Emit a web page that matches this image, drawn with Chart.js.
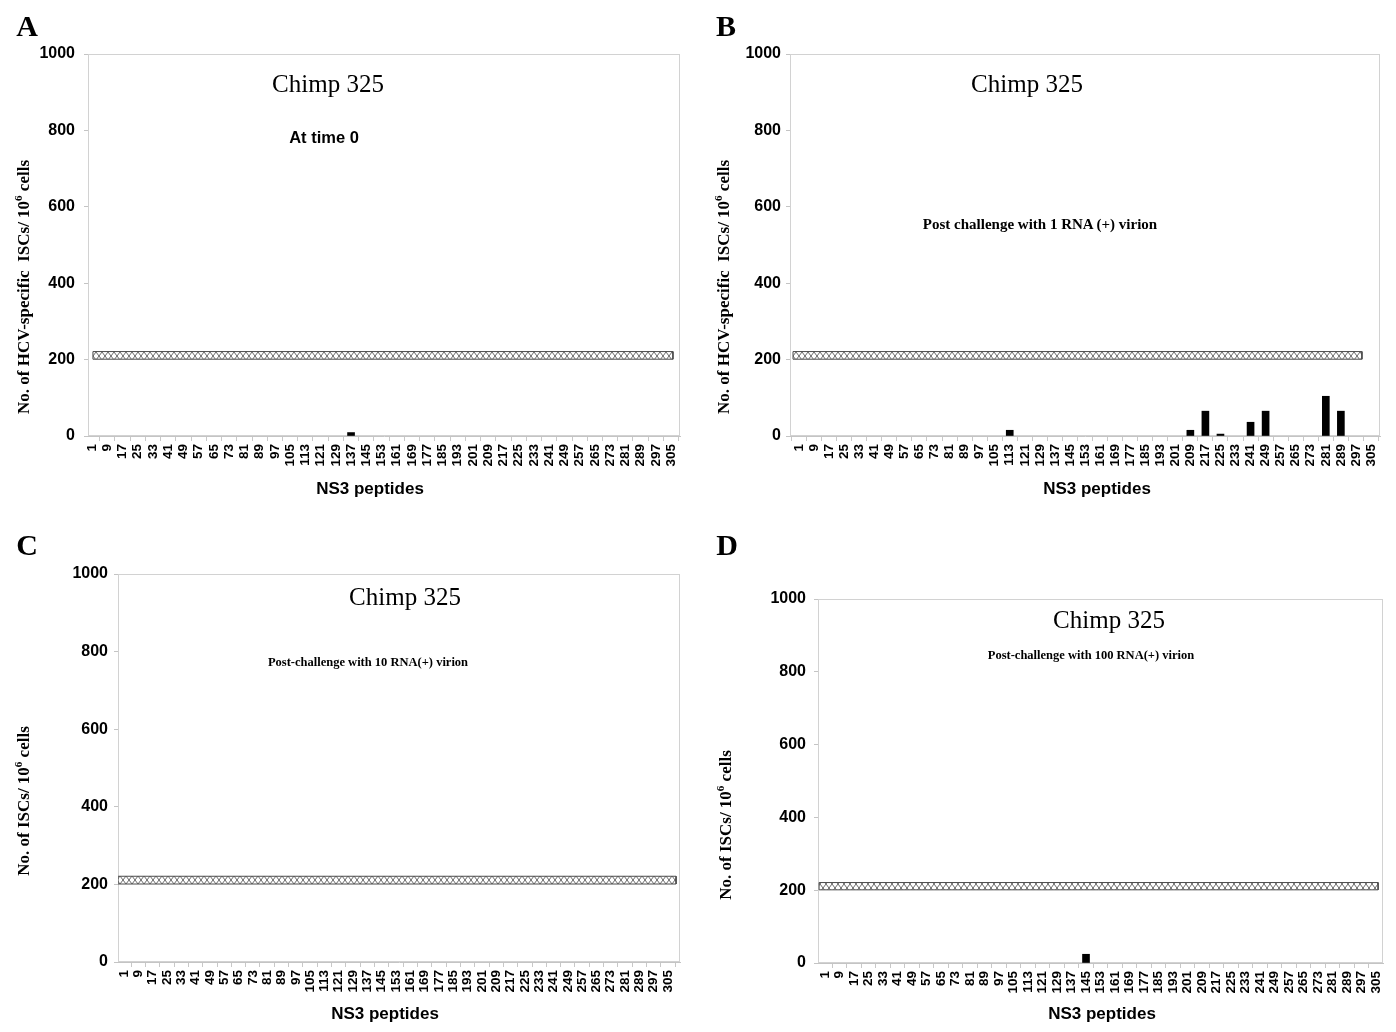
<!DOCTYPE html>
<html>
<head>
<meta charset="utf-8">
<script src="https://cdn.jsdelivr.net/npm/chart.js@4.4.0/dist/chart.umd.min.js"></script>
<style>
body{margin:0;background:#fff;width:1396px;height:1032px;position:relative;overflow:hidden}
.pane{position:absolute}
.t{position:absolute;transform:translate(-50%,-50%);white-space:nowrap;color:#000;line-height:1}
.letter{font:bold 30px 'Liberation Serif',serif}
.chimp{font:25px 'Liberation Serif',serif}
.sub{font-family:'Liberation Serif',serif;font-weight:bold}
.ytitle{font:bold 17px 'Liberation Serif',serif;transform:translate(-50%,-50%) rotate(-90deg)}
.ytitle sup{font-size:11px;vertical-align:7px;line-height:0}
.xtitle{font:bold 17px 'Liberation Sans',Arial,sans-serif}
</style>
</head>
<body>
<div class="pane" style="left:0;top:40px;width:700px;height:460px"><canvas id="cA"></canvas></div>
<div class="pane" style="left:700px;top:40px;width:696px;height:460px"><canvas id="cB"></canvas></div>
<div class="pane" style="left:0;top:540px;width:700px;height:480px"><canvas id="cC"></canvas></div>
<div class="pane" style="left:700px;top:540px;width:696px;height:480px"><canvas id="cD"></canvas></div>

<div class="t letter" style="left:27px;top:26px">A</div>
<div class="t letter" style="left:726px;top:26px">B</div>
<div class="t letter" style="left:27px;top:545px">C</div>
<div class="t letter" style="left:727px;top:545px">D</div>

<div class="t chimp" style="left:328px;top:84px">Chimp 325</div>
<div class="t chimp" style="left:1027px;top:84px">Chimp 325</div>
<div class="t chimp" style="left:405px;top:597px">Chimp 325</div>
<div class="t chimp" style="left:1109px;top:620px">Chimp 325</div>

<div class="t" style="left:324px;top:137px;font:bold 16.5px 'Liberation Sans',Arial,sans-serif">At time 0</div>
<div class="t sub" style="left:1040px;top:224px;font-size:15px">Post challenge with 1 RNA (+) virion</div>
<div class="t sub" style="left:368px;top:662px;font-size:12.5px">Post-challenge with 10 RNA(+) virion</div>
<div class="t sub" style="left:1091px;top:655px;font-size:12.5px">Post-challenge with 100 RNA(+) virion</div>

<div class="t ytitle" style="left:24px;top:287px">No. of HCV-specific&nbsp; ISCs/ 10<sup>6</sup> cells</div>
<div class="t ytitle" style="left:724px;top:287px">No. of HCV-specific&nbsp; ISCs/ 10<sup>6</sup> cells</div>
<div class="t ytitle" style="left:24px;top:801px">No. of ISCs/ 10<sup>6</sup> cells</div>
<div class="t ytitle" style="left:726px;top:825px">No. of ISCs/ 10<sup>6</sup> cells</div>

<div class="t xtitle" style="left:370px;top:489px">NS3 peptides</div>
<div class="t xtitle" style="left:1097px;top:489px">NS3 peptides</div>
<div class="t xtitle" style="left:385px;top:1014px">NS3 peptides</div>
<div class="t xtitle" style="left:1102px;top:1014px">NS3 peptides</div>

<script>
// peptide pools on the x axis (first peptide of each pool)
const peptideTicks=[1,9,17,25,33,41,49,57,65,73,81,89,97,105,113,121,129,137,145,153,161,169,177,185,193,201,209,217,225,233,241,249,257,265,273,281,289,297,305];
const yTicks=[0,200,400,600,800,1000];
// cut-off band (spots / 10^6 cells)
const cutoffBand=[201,221];

// A: at time 0
const poolsA=[137];
const spotsA=[9];
// B: after 1 RNA(+) virion
const poolsB=[113,209,217,225,241,249,281,289];
const spotsB=[15,15,65,5,36,65,104,65];
// C: after 10 RNA(+) virion
const poolsC=[];
const spotsC=[];
// D: after 100 RNA(+) virion
const poolsD=[145];
const spotsD=[24];

// x extent of the cut-off band in each panel
const bandA=[1.5,306];
const bandB=[-2.2,300.2];
const bandC=[-2.3,309.5];
const bandD=[-2.3,306.2];

const sans="'Liberation Sans',Arial,sans-serif";

function hatch(){
  const c=document.createElement('canvas');c.width=6;c.height=8;
  const g=c.getContext('2d');
  g.fillStyle='#fff';g.fillRect(0,0,6,8);
  g.strokeStyle='#6a6a6a';g.lineWidth=1;
  g.beginPath();g.moveTo(0,0);g.lineTo(6,8);g.moveTo(6,0);g.lineTo(0,8);g.stroke();
  return g.createPattern(c,'repeat');
}

const frame={id:'frame',beforeDatasetsDraw(ch){
  const {ctx,chartArea:a}=ch;
  ctx.save();ctx.strokeStyle='#d2d2d2';ctx.lineWidth=1;
  ctx.strokeRect(a.left+0.5,a.top+0.5,a.width-1,a.height-1);
  ctx.restore();
}};

function panel(id,pools,spots,band,o){
  const b0=band[0],b1=band[1],lo=cutoffBand[0],hi=cutoffBand[1];
  new Chart(document.getElementById(id),{
    type:'bar',
    data:{datasets:[
      {type:'line',data:[{x:b0,y:lo},{x:b0,y:hi},{x:b1,y:hi},{x:b1,y:lo},{x:b0,y:lo}],
       borderColor:'#4a4a4a',borderWidth:1,pointRadius:0,tension:0,fill:'shape',backgroundColor:hatch(),order:2},
      {type:'bar',data:pools.map((p,i)=>({x:p,y:spots[i]})),backgroundColor:'#000',barThickness:7,order:1}
    ]},
    options:{
      responsive:true,maintainAspectRatio:false,animation:false,
      layout:{padding:{top:o.top,right:o.right,left:0,bottom:0}},
      plugins:{legend:{display:false},tooltip:{enabled:false}},
      scales:{
        x:{type:'linear',offset:false,min:o.xMin,max:o.xMax,
          afterBuildTicks:s=>{s.ticks=peptideTicks.map(v=>({value:v}));},
          afterFit:s=>{s.height=o.xH;},
          ticks:{autoSkip:false,maxRotation:90,minRotation:90,padding:3,color:'#000',
            font:{family:sans,size:13.5,weight:'bold'},callback:v=>String(v)},
          grid:{drawOnChartArea:false,offset:true,tickLength:5,color:'#c8c8c8'},
          border:{color:'#c4c4c4'}},
        y:{min:0,max:1000,
          afterBuildTicks:s=>{s.ticks=yTicks.map(v=>({value:v}));},
          afterFit:s=>{s.width=o.yW;s.paddingTop=0;s.paddingBottom=0;},
          ticks:{padding:o.yPad,color:'#000',font:{family:sans,size:16,weight:'bold'},callback:v=>String(v)},
          grid:{drawOnChartArea:false,tickLength:4,color:'#c4c4c4'},
          border:{color:'#c4c4c4'}}
      }
    },
    plugins:[frame]
  });
}

panel('cA',poolsA,spotsA,bandA,{top:14,right:20,xH:64,yW:88,yPad:9,xMin:-1.1,xMax:309.7});
panel('cB',poolsB,spotsB,bandB,{top:14,right:16,xH:64,yW:90,yPad:5,xMin:-3.8,xMax:309.8});
panel('cC',poolsC,spotsC,bandC,{top:34,right:20,xH:58,yW:118,yPad:6,xMin:-2.35,xMax:311.7});
panel('cD',poolsD,spotsD,bandD,{top:59,right:13,xH:57,yW:118,yPad:8,xMin:-2.9,xMax:308.9});
</script>
</body>
</html>
